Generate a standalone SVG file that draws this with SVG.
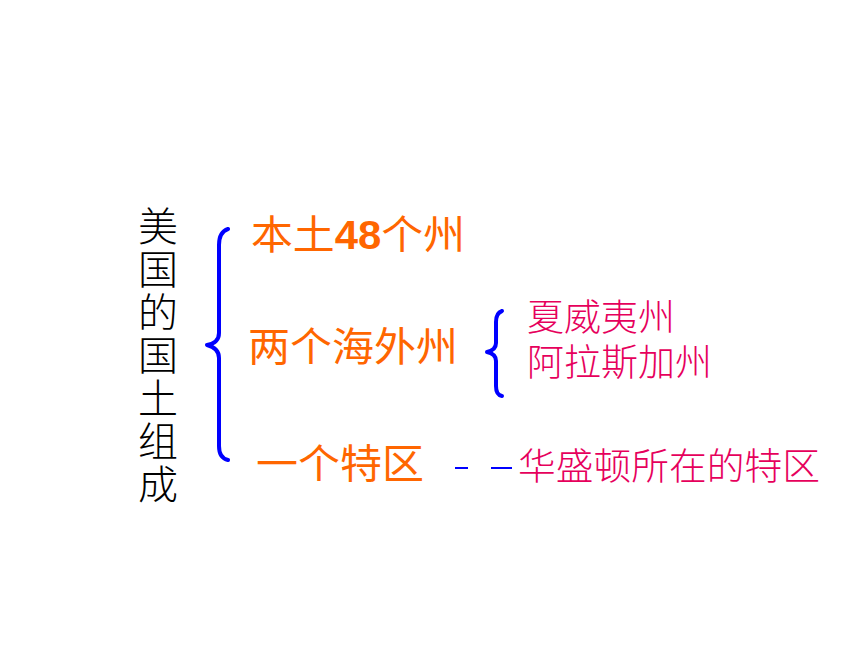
<svg xmlns="http://www.w3.org/2000/svg" width="860" height="645" viewBox="0 0 860 645">
<style>
.title{font-family:"Noto Sans CJK SC","Noto Sans CJK JP",sans-serif;font-size:40px;fill:#000;font-weight:300;writing-mode:vertical-rl;letter-spacing:3px;}
.org{font-family:"Liberation Sans","Noto Sans CJK SC",sans-serif;font-size:40px;fill:#FF6600;}
.pink{font-family:"Liberation Sans","Noto Sans CJK SC",sans-serif;font-size:37px;fill:#E6005C;font-weight:300;}
.brace{fill:none;stroke:#0000FF;stroke-width:4;stroke-linecap:round;stroke-linejoin:round;}
.dash{stroke:#0000FF;stroke-width:2;}
</style>
<rect width="860" height="645" fill="#fff"/>
<g id="title">
<text class="title" x="158" y="206">美国的国土组成</text>
</g>
<g id="connectors">
<path class="brace" d="M228,229 Q219,232 219,245 L219,333 Q219,343 207,345 Q219,348 219,358 L219,446 Q219,458 228,460"/>
<path class="brace" d="M502,311 Q496,313 496,322 L496,343 Q496,350 487,352 Q496,354 496,361 L496,386 Q496,395 502,396"/>
<line class="dash" x1="455" y1="468" x2="468" y2="468"/>
<line class="dash" x1="491" y1="468" x2="512" y2="468"/>
</g>
<g id="n1"><text class="org" x="251" y="249" font-size="38" textLength="214" lengthAdjust="spacingAndGlyphs">本土<tspan font-weight="bold">48</tspan>个州</text></g>
<g id="n2"><text class="org" x="248" y="361" font-size="41" textLength="210" lengthAdjust="spacingAndGlyphs">两个海外州</text></g>
<g id="n3"><text class="org" x="256" y="478" font-size="41" textLength="168" lengthAdjust="spacingAndGlyphs">一个特区</text></g>
<g id="n4"><text class="pink" x="527" y="331">夏威夷州</text></g>
<g id="n5"><text class="pink" x="527" y="376">阿拉斯加州</text></g>
<g id="n6"><text class="pink" x="518" y="480" font-size="36" textLength="302" lengthAdjust="spacingAndGlyphs">华盛顿所在的特区</text></g>
</svg>
